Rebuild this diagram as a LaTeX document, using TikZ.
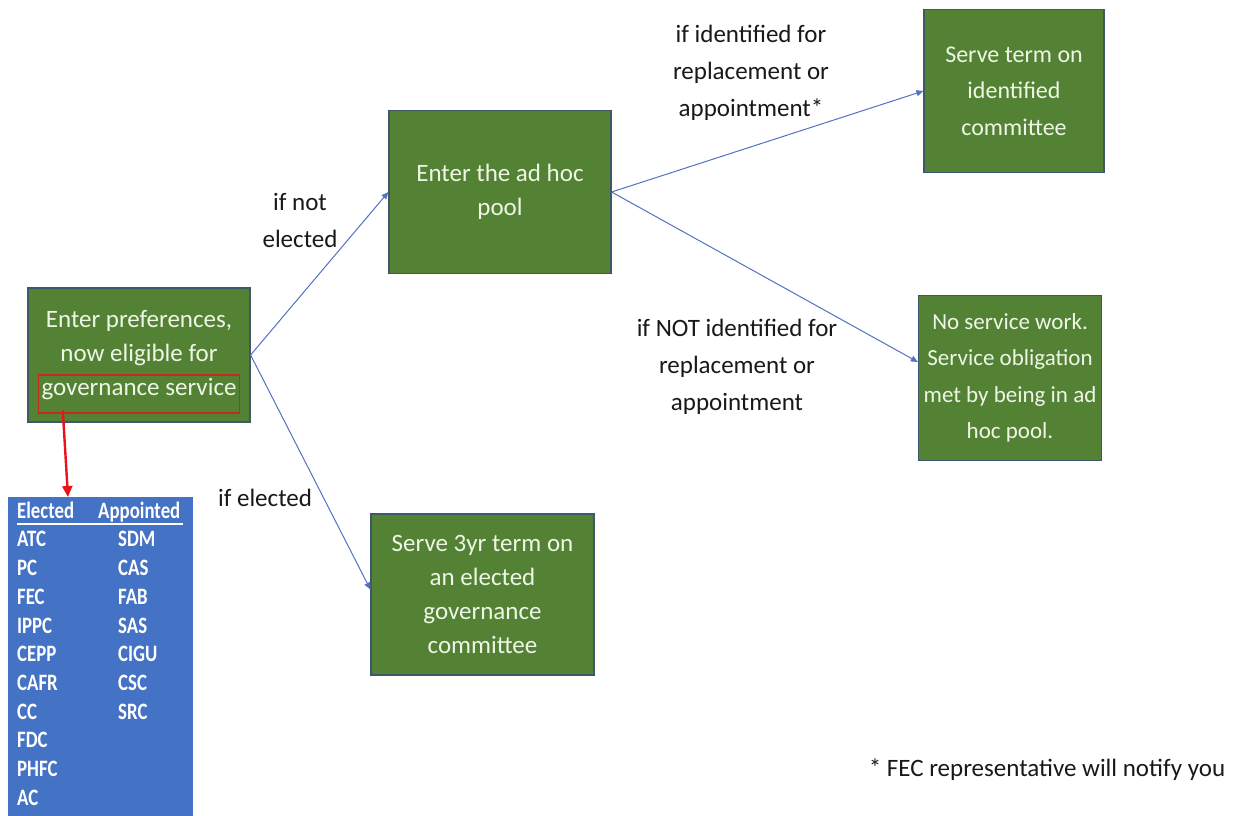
\documentclass[tikz,border=0pt]{standalone}
\usepackage{fontspec}
\setmainfont{Carlito}
\newfontfamily\listfont[FakeStretch=0.8]{Carlito}
\usepackage{xcolor}
\definecolor{BoxGreen}{RGB}{84,130,53}
\definecolor{BoxEdge}{RGB}{62,88,104}
\definecolor{BoxText}{RGB}{238,246,230}
\definecolor{ListBlue}{RGB}{68,114,196}
\definecolor{FlowBlue}{RGB}{84,114,196}
\definecolor{MarkRed}{RGB}{196,44,24}
\definecolor{ArrowRed}{RGB}{232,20,26}
\usepackage{tikz}
\usetikzlibrary{arrows.meta, positioning, calc}

\begin{document}
\begin{tikzpicture}[
        x=1pt, y=-1pt,
        stage/.style={rectangle, draw=BoxEdge, line width=1.2pt, fill=BoxGreen, text=BoxText, align=center, font=\fontsize{25}{34}\selectfont, minimum width=222pt, minimum height=163pt, inner sep=0pt},
        cond/.style={align=center, text=black!90, font=\fontsize{25}{37}\selectfont, inner sep=0pt},
        flow/.style={draw=FlowBlue, line width=1pt, -{Triangle[length=7pt,width=6pt]}},
        hilite/.style={rectangle, draw=MarkRed, line width=1.4pt, minimum width=201pt, minimum height=38pt, inner sep=0pt},
        markarrow/.style={draw=ArrowRed, line width=2.4pt, -{Triangle[length=11pt,width=10pt]}},
        listbox/.style={rectangle, fill=ListBlue, minimum width=185pt, minimum height=320pt, inner sep=0pt, anchor=north west},
        listtext/.style={text=white, font=\listfont\bfseries\fontsize{23.5}{28.7}\selectfont, inner sep=0pt, anchor=north west}
    ]
        \useasboundingbox[fill=white] (0,0) rectangle (1237,816);

        % boxes
        \node[stage, minimum height=134pt] (prefs) at (139,355) {Enter preferences,\\now eligible for\\governance service};
        \node[stage] (pool) at (500,192) {Enter the ad hoc\\pool};
        \node[stage, minimum width=180pt, font=\fontsize{24}{36.5}\selectfont] (serve) at (1014,91) {Serve term on\\identified\\committee};
        \node[stage, minimum width=183pt, minimum height=165pt, font=\fontsize{23}{36.5}\selectfont] (noserve) at (1010,378) {No service work.\\Service obligation\\met by being in ad\\hoc pool.};
        \node[stage, minimum width=223pt, minimum height=161pt] (elected) at (482.5,594.5) {Serve 3yr term on\\an elected\\governance\\committee};

        \node[hilite, above=9pt of prefs.south] (govmark) {};

        % committee list
        \node[listbox] (listbg) at (8,497) {};
        \node[listtext] (committees) at (17,498) {%
            \begin{tabular}{@{}p{101pt}@{}l@{}}
            \multicolumn{2}{@{}l@{}}{\makebox[0pt][l]{\raisebox{-7pt}{\rule{166pt}{2.5pt}}}\makebox[81pt][l]{Elected}Appointed}\\
            ATC & SDM\\
            PC & CAS\\
            FEC & FAB\\
            IPPC & SAS\\
            CEPP & CIGU\\
            CAFR & CSC\\
            CC & SRC\\
            FDC & \\
            PHFC & \\
            AC &
            \end{tabular}};

        % labels
        \node[cond] (notelected) at (300,220) {if not\\elected};
        \node[cond] (ifelected) at (265,498) {if elected};
        \node[cond] (picked) at (751,73) {if identified for\\replacement or\\appointment*};
        \node[cond] (notpicked) at (737,367) {if NOT identified for\\replacement or\\appointment};
        \node[cond] (footnote) at (1047,770) {* FEC representative will notify you};

        % connectors
        \draw[flow] (prefs.east) -- (pool.west);
        \draw[flow] (prefs.east) -- ([yshift=5pt]elected.west);
        \draw[flow] (pool.east) -- (serve.west);
        \draw[flow] (pool.east) -- ([yshift=16pt]noserve.west);
        \draw[markarrow] ($(govmark.south west)+(25,-3)$) -- ($(listbg.north west)+(60,0)$);
    \end{tikzpicture}
\end{document}
